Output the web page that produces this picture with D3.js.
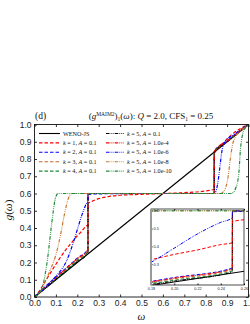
<!DOCTYPE html>
<html>
<head>
<meta charset="utf-8">
<script src="https://cdn.jsdelivr.net/npm/d3@7"></script>
<style>
  body { margin: 0; background: #fff; }
  text { font-family: "Liberation Serif", "DejaVu Serif", serif; }
  .tick text { font-family: "Liberation Sans", Arial, sans-serif; fill: #222; }
</style>
</head>
<body>
<svg id="chart" width="250" height="324"></svg>
<script>
// ---- data ----
const xTicks = [0, 0.1, 0.2, 0.3, 0.4, 0.5, 0.6, 0.7, 0.8, 0.9, 1.0];
const yTicks = [0, 0.1, 0.2, 0.3, 0.4, 0.5, 0.6, 0.7, 0.8, 0.9, 1.0];
const insetXTicks = [0.18, 0.20, 0.22, 0.24, 0.26];
const insetYTicks = [0.2, 0.3, 0.4, 0.5, 0.6];

const wJS = [0, 1];
const gJS = [0, 1];

const wK1 = [0, 0.02, 0.05, 0.1, 0.15, 0.18, 0.2, 0.22, 0.24, 0.2499, 0.2501, 0.27, 0.3, 0.35, 0.4, 0.5, 0.6, 0.7, 0.8, 0.8399, 0.8401, 0.88, 0.92, 0.96, 1];
const gK1 = [0, 0.03, 0.09, 0.19, 0.28, 0.325, 0.355, 0.38, 0.41, 0.42, 0.54, 0.555, 0.57, 0.583, 0.59, 0.595, 0.6, 0.605, 0.615, 0.625, 0.83, 0.89, 0.94, 0.975, 1];

// k = 2..4 and k = 5 with A = 0.1, 1e-4 share the same omega points
const wStep = [0, 0.05, 0.1, 0.15, 0.2, 0.2499, 0.2501, 0.3, 0.5, 0.7, 0.8399, 0.8401, 0.9, 0.95, 1];
const gK2 = [0, 0.06, 0.115, 0.17, 0.225, 0.278, 0.595, 0.598, 0.6, 0.6, 0.6, 0.845, 0.905, 0.955, 1];
const gK3 = [0, 0.055, 0.11, 0.165, 0.218, 0.27, 0.6, 0.6, 0.6, 0.6, 0.6, 0.842, 0.902, 0.952, 1];
const gK4 = [0, 0.053, 0.105, 0.158, 0.21, 0.262, 0.6, 0.6, 0.6, 0.6, 0.6, 0.841, 0.901, 0.951, 1];
const gA1 = [0, 0.051, 0.102, 0.153, 0.205, 0.256, 0.6, 0.6, 0.6, 0.6, 0.6, 0.84, 0.9, 0.95, 1];
const gA4 = [0, 0.058, 0.113, 0.168, 0.222, 0.275, 0.6, 0.6, 0.6, 0.6, 0.6, 0.843, 0.903, 0.953, 1];

const wA6 = [0, 0.05, 0.1, 0.15, 0.18, 0.2, 0.22, 0.24, 0.2499, 0.2501, 0.3, 0.5, 0.7, 0.84, 0.855, 0.865, 0.875, 0.89, 0.93, 1];
const gA6 = [0, 0.055, 0.12, 0.21, 0.31, 0.39, 0.47, 0.535, 0.56, 0.6, 0.6, 0.6, 0.6, 0.6, 0.65, 0.74, 0.84, 0.9, 0.94, 1];

const wA8 = [0, 0.03, 0.05, 0.075, 0.1, 0.12, 0.14, 0.155, 0.175, 0.2, 0.5, 0.87, 0.89, 0.905, 0.915, 0.925, 0.94, 0.97, 1];
const gA8 = [0, 0.035, 0.09, 0.16, 0.245, 0.35, 0.48, 0.56, 0.6, 0.6, 0.6, 0.6, 0.625, 0.7, 0.8, 0.88, 0.93, 0.97, 1];

const wA10 = [0, 0.02, 0.035, 0.045, 0.055, 0.065, 0.075, 0.088, 0.097, 0.11, 0.2, 0.5, 0.92, 0.94, 0.955, 0.962, 0.97, 0.985, 1];
const gA10 = [0, 0.022, 0.05, 0.1, 0.17, 0.26, 0.37, 0.5, 0.57, 0.6, 0.6, 0.6, 0.6, 0.63, 0.72, 0.85, 0.93, 0.98, 1];

const dashed = "3.5,2";
const dashDot = "3.5,1.2,0.8,1.2,0.8,1.2";

const series = [
  { k: null, A: null, w: wJS, g: gJS, color: "#000", dash: null, name: "WENO-JS", col: 0, row: 0 },
  { k: "1", A: "0.1", w: wK1, g: gK1, color: "#ff0000", dash: dashed, col: 0, row: 1 },
  { k: "2", A: "0.1", w: wStep, g: gK2, color: "#0000ff", dash: dashed, col: 0, row: 2 },
  { k: "3", A: "0.1", w: wStep, g: gK3, color: "#c8682a", dash: dashed, col: 0, row: 3 },
  { k: "4", A: "0.1", w: wStep, g: gK4, color: "#1e8a3a", dash: dashed, col: 0, row: 4 },
  { k: "5", A: "0.1", w: wStep, g: gA1, color: "#000", dash: dashDot, col: 1, row: 0 },
  { k: "5", A: "1.0e-4", w: wStep, g: gA4, color: "#ff0000", dash: dashDot, col: 1, row: 1 },
  { k: "5", A: "1.0e-6", w: wA6, g: gA6, color: "#0000ff", dash: dashDot, col: 1, row: 2 },
  { k: "5", A: "1.0e-8", w: wA8, g: gA8, color: "#c8782e", dash: dashDot, col: 1, row: 3 },
  { k: "5", A: "1.0e-10", w: wA10, g: gA10, color: "#1e8a3a", dash: dashDot, col: 1, row: 4 }
];

// ---- layout ----
const svg = d3.select("#chart");
const pLeft = 34.5, pRight = 248.5, pTop = 124.5, pBottom = 297;

const x = d3.scaleLinear().domain([0, 1]).range([pLeft, pRight]);
const y = d3.scaleLinear().domain([0, 1]).range([pBottom, pTop]);

const defs = svg.append("defs");
defs.append("clipPath").attr("id", "plotClip")
  .append("rect").attr("x", pLeft).attr("y", pTop).attr("width", pRight - pLeft).attr("height", pBottom - pTop);

function pts(s) { return s.w.map((w, i) => [w, s.g[i]]); }

const line = d3.line().x(d => x(d[0])).y(d => y(d[1])).curve(d3.curveMonotoneX);

const curves = svg.append("g").attr("clip-path", "url(#plotClip)");
curves.selectAll("path").data(series).enter().append("path")
  .attr("d", d => line(pts(d)))
  .attr("fill", "none")
  .attr("stroke", d => d.color)
  .attr("stroke-width", 1.2)
  .attr("stroke-dasharray", d => d.dash);

// axes with inward ticks
svg.append("g").attr("transform", `translate(0,${pBottom})`)
  .call(d3.axisBottom(x).tickValues(xTicks).tickFormat(d3.format(".1f")).tickSize(-2.5).tickPadding(3))
  .call(g => g.select(".domain").remove())
  .call(g => g.selectAll("text").attr("font-size", 8.5))
  .call(g => g.selectAll("line").attr("stroke", "#333"));
svg.append("g").attr("transform", `translate(${pLeft},0)`)
  .call(d3.axisLeft(y).tickValues(yTicks).tickFormat(d3.format(".1f")).tickSize(-2.5).tickPadding(3))
  .call(g => g.select(".domain").remove())
  .call(g => g.selectAll("text").attr("font-size", 8.5))
  .call(g => g.selectAll("line").attr("stroke", "#333"));
svg.append("g").attr("transform", `translate(0,${pTop})`)
  .call(d3.axisTop(x).tickValues(xTicks).tickFormat("").tickSize(-2.5))
  .call(g => g.select(".domain").remove())
  .call(g => g.selectAll("line").attr("stroke", "#333"));
svg.append("g").attr("transform", `translate(${pRight},0)`)
  .call(d3.axisRight(y).tickValues(yTicks).tickFormat("").tickSize(-2.5))
  .call(g => g.select(".domain").remove())
  .call(g => g.selectAll("line").attr("stroke", "#333"));

svg.append("rect").attr("x", pLeft).attr("y", pTop).attr("width", pRight - pLeft).attr("height", pBottom - pTop)
  .attr("fill", "none").attr("stroke", "#111").attr("stroke-width", 0.9);

// ---- legend ----
const legend = svg.append("g");
const colX = [[39, 60, 63], [106, 124, 127]];
const rowY = i => 133.5 + i * 9.4;
series.forEach(s => {
  const cx = colX[s.col], ry = rowY(s.row);
  legend.append("line").attr("x1", cx[0]).attr("x2", cx[1]).attr("y1", ry).attr("y2", ry)
    .attr("stroke", s.color).attr("stroke-width", 1.1).attr("stroke-dasharray", s.dash);
  const t = legend.append("text").attr("x", cx[2]).attr("y", ry + 2).attr("font-size", 6.2).attr("fill", "#111");
  if (s.name) { t.text(s.name); return; }
  t.append("tspan").attr("font-style", "italic").text("k");
  t.append("tspan").text(" = " + s.k + ", ");
  t.append("tspan").attr("font-style", "italic").text("A");
  t.append("tspan").text(" = " + s.A);
});

// ---- title and axis labels ----
svg.append("text").attr("x", 35).attr("y", 119).attr("font-size", 9.5).attr("fill", "#111").text("(d)");
const title = svg.append("text").attr("x", 151).attr("y", 119).attr("text-anchor", "middle")
  .attr("font-size", 9).attr("fill", "#111");
title.append("tspan").text("(");
title.append("tspan").attr("font-style", "italic").text("g");
title.append("tspan").attr("font-size", 5.5).attr("dy", -3.5).text("MAIM2");
title.append("tspan").attr("dy", 3.5).text(")");
title.append("tspan").attr("font-size", 5.5).attr("dy", 2).text("1");
title.append("tspan").attr("dy", -2).text("(");
title.append("tspan").attr("font-style", "italic").text("ω");
title.append("tspan").text("): ");
title.append("tspan").attr("font-style", "italic").text("Q");
title.append("tspan").text(" = 2.0, CFS");
title.append("tspan").attr("font-size", 5.5).attr("dy", 2).text("1");
title.append("tspan").attr("dy", -2).text(" = 0.25");

const yl = svg.append("text").attr("transform", "translate(12,210) rotate(-90)")
  .attr("text-anchor", "middle").attr("font-size", 11).attr("fill", "#111");
yl.append("tspan").attr("font-style", "italic").text("g");
yl.append("tspan").text("(");
yl.append("tspan").attr("font-style", "italic").text("ω");
yl.append("tspan").text(")");

svg.append("text").attr("x", x(0.5)).attr("y", 320).attr("text-anchor", "middle")
  .attr("font-size", 11).attr("font-style", "italic").attr("fill", "#111").text("ω");

// ---- inset ----
const iL = 151, iR = 244, iT = 209, iB = 285;
const ix = d3.scaleLinear().domain([0.18, 0.26]).range([iL, iR]);
const iy = d3.scaleLinear().domain([0.183, 0.61]).range([iB, iT]);

svg.append("rect").attr("x", iL - 2).attr("y", iT - 2).attr("width", iR - iL + 4).attr("height", iB - iT + 10)
  .attr("fill", "#fff");
defs.append("clipPath").attr("id", "insetClip")
  .append("rect").attr("x", iL).attr("y", iT).attr("width", iR - iL).attr("height", iB - iT);

const iline = d3.line().x(d => ix(d[0])).y(d => iy(d[1])).curve(d3.curveMonotoneX);
svg.append("g").attr("clip-path", "url(#insetClip)")
  .selectAll("path").data(series).enter().append("path")
  .attr("d", d => iline(pts(d)))
  .attr("fill", "none")
  .attr("stroke", d => d.color)
  .attr("stroke-width", 1)
  .attr("stroke-dasharray", d => d.dash);

svg.append("g").attr("transform", `translate(0,${iB})`)
  .call(d3.axisBottom(ix).tickValues(insetXTicks).tickFormat(d3.format(".2f")).tickSize(-1.5).tickPadding(2))
  .call(g => g.select(".domain").remove())
  .call(g => g.selectAll("text").attr("font-size", 3.8));
svg.append("g").attr("transform", `translate(${iL},0)`)
  .call(d3.axisRight(iy).tickValues(insetYTicks).tickFormat(d3.format(".1f")).tickSize(1.5).tickPadding(1))
  .call(g => g.select(".domain").remove())
  .call(g => g.selectAll("text").attr("font-size", 3.8));
svg.append("g").attr("transform", `translate(0,${iT})`)
  .call(d3.axisTop(ix).tickValues(insetXTicks).tickFormat("").tickSize(-1.5))
  .call(g => g.select(".domain").remove());

svg.append("rect").attr("x", iL).attr("y", iT).attr("width", iR - iL).attr("height", iB - iT)
  .attr("fill", "none").attr("stroke", "#222").attr("stroke-width", 0.8);
svg.append("line").attr("x1", iL).attr("x2", iL).attr("y1", iT).attr("y2", iB)
  .attr("stroke", "#999").attr("stroke-width", 2);
</script>
</body>
</html>
